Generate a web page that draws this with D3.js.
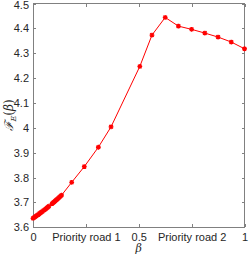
<!DOCTYPE html>
<html><head><meta charset="utf-8">
<script src="https://cdn.jsdelivr.net/npm/d3@7"></script>
<style>body{margin:0;background:#fff}svg{display:block}</style>
</head><body>
<svg id="c" width="249" height="256"></svg>
<script>
const betaValues = [0,0.005,0.01,0.015,0.02,0.025,0.03,0.035,0.04,0.045,0.05,0.055,0.06,0.065,0.07,0.075,0.09,0.095,0.1,0.105,0.11,0.115,0.12,0.125,0.13,0.135,
  0.183,0.2425,0.309,0.369,0.505,0.5625,0.625,0.6875,0.75,0.8125,0.875,0.9375,1];
const feValues = [3.636,3.639,3.642,3.645,3.648,3.651,3.655,3.658,3.661,3.664,3.668,3.671,3.674,3.678,3.681,3.685,3.695,3.699,3.702,3.706,3.710,3.713,3.717,3.721,3.725,3.729,
  3.781,3.844,3.922,4.004,4.247,4.373,4.444,4.409,4.396,4.381,4.365,4.345,4.318];
const xTicks = [0,0.25,0.5,0.75,1];
const xTickLabels = ["0","Priority road 1","0.5","Priority road 2","1"];
const yTicks = [3.6,3.7,3.8,3.9,4,4.1,4.2,4.3,4.4,4.5];

const svg = d3.select("#c");
const L=33, R=244.5, T=3.5, B=227.3;
const x = d3.scaleLinear().domain([0,1]).range([L,R]);
const y = d3.scaleLinear().domain([3.6,4.5]).range([B,T]);
const axisColor = "#808080";
const font = "Liberation Sans, Arial, sans-serif";

svg.append("rect").attr("x",L).attr("y",T).attr("width",R-L).attr("height",B-T)
  .attr("fill","none").attr("stroke",axisColor).attr("stroke-width",1).attr("shape-rendering","crispEdges");

const ax = svg.append("g").attr("transform",`translate(0,${B})`)
  .call(d3.axisBottom(x).tickValues(xTicks).tickFormat((d,i)=>xTickLabels[i]).tickSizeInner(-3).tickSizeOuter(0).tickPadding(6));
const axT = svg.append("g").attr("transform",`translate(0,${T})`)
  .call(d3.axisTop(x).tickValues(xTicks).tickFormat("").tickSizeInner(-3).tickSizeOuter(0));
const ay = svg.append("g").attr("transform",`translate(${L},0)`)
  .call(d3.axisLeft(y).tickValues(yTicks).tickFormat(d3.format("")).tickSizeInner(-3).tickSizeOuter(0).tickPadding(4));
const ayR = svg.append("g").attr("transform",`translate(${R},0)`)
  .call(d3.axisRight(y).tickValues(yTicks).tickFormat("").tickSizeInner(-3).tickSizeOuter(0));
[ax,axT,ay,ayR].forEach(g=>{
  g.select(".domain").remove();
  g.selectAll("line").attr("stroke",axisColor).attr("shape-rendering","crispEdges");
  g.selectAll("text").attr("fill","#262626").attr("font-family",font).attr("font-size","11px");
});
ay.selectAll(".tick").filter(d=>d===4.5).select("text").attr("dy","0.45em");

const data = betaValues.map((b,i)=>[b,feValues[i]]);
svg.append("path").datum(data).attr("fill","none").attr("stroke","#ff0000").attr("stroke-width",1)
  .attr("d",d3.line().x(d=>x(d[0])).y(d=>y(d[1])));
// asterisk markers
const r = 2.4;
const ast = `M${-r},0L${r},0M0,${-r}L0,${r}M${-r*0.75},${-r*0.75}L${r*0.75},${r*0.75}M${-r*0.75},${r*0.75}L${r*0.75},${-r*0.75}`;
svg.append("g").selectAll("path").data(data).join("path")
  .attr("transform",d=>`translate(${x(d[0])},${y(d[1])})`)
  .attr("d",ast).attr("fill","none").attr("stroke","#ff0000").attr("stroke-width",1.3);

svg.append("text").attr("x",x(0.5)).attr("y",252).attr("text-anchor","middle")
  .attr("font-family","DejaVu Serif, serif").attr("font-style","italic").attr("font-size","11px").attr("fill","#262626").text("β");
const yl = svg.append("text").attr("transform",`translate(13,${(T+B)/2}) rotate(-90)`).attr("text-anchor","middle")
  .attr("font-family","DejaVu Serif, serif").attr("font-size","12px").attr("fill","#262626");
yl.append("tspan").attr("font-style","italic").text("ℱ");
yl.append("tspan").attr("font-style","italic").attr("font-size","8px").attr("dy","3").text("E");
yl.append("tspan").attr("dy","-3").text("(");
yl.append("tspan").attr("font-style","italic").text("β");
yl.append("tspan").text(")");
</script>
</body></html>
